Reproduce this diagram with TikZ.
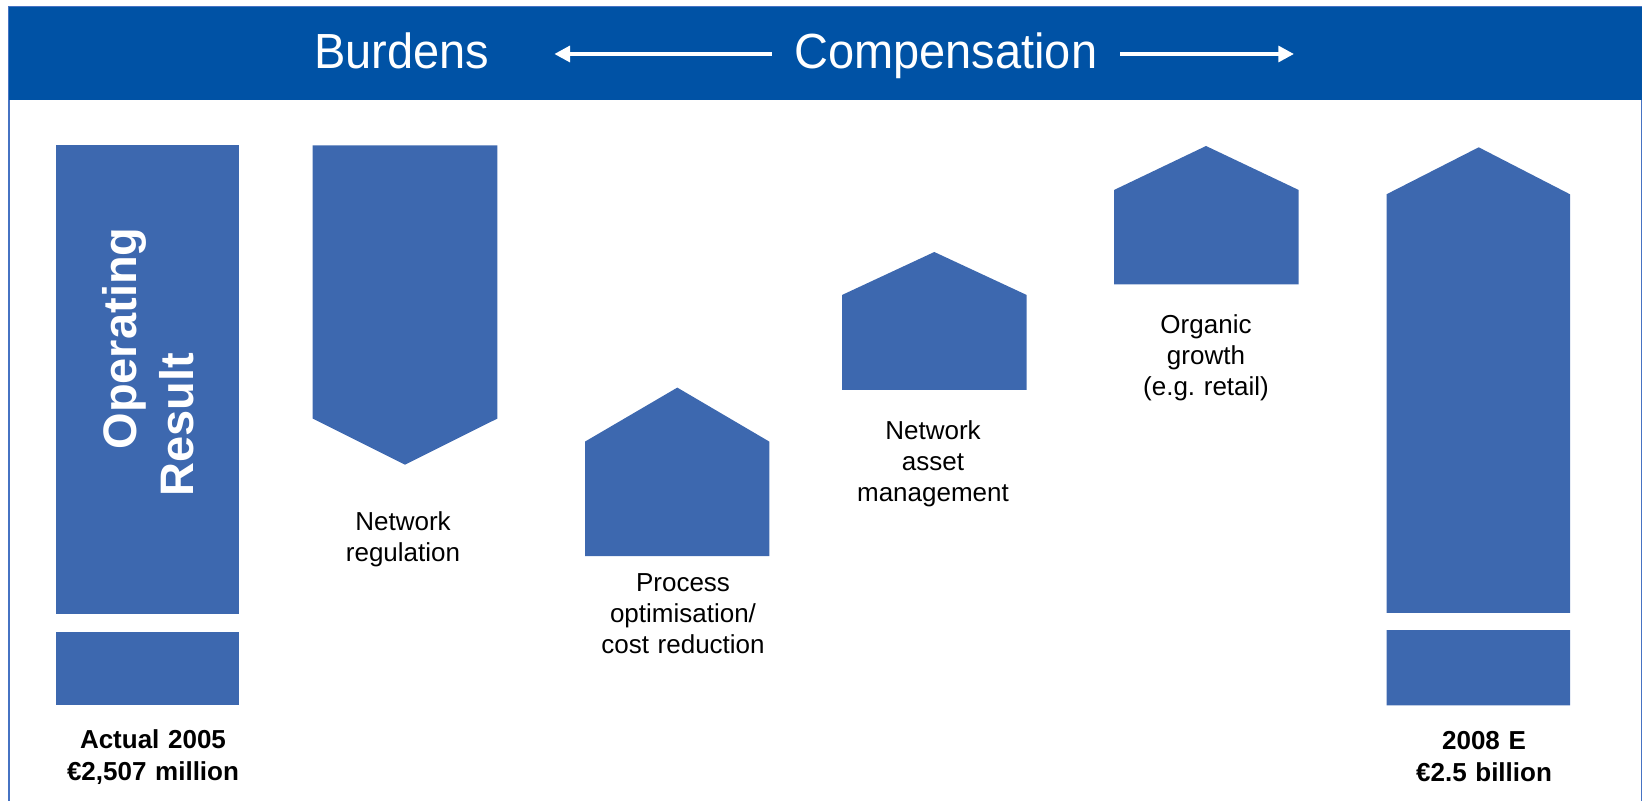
\documentclass[tikz,border=0pt]{standalone}
\usepackage{fontspec}
\setmainfont{Liberation Sans}
\usetikzlibrary{arrows.meta}
\frenchspacing
\definecolor{bannerblue}{RGB}{0,82,165}
\definecolor{barblue}{RGB}{61,104,175}
\definecolor{frameblue}{RGB}{70,115,195}
\tikzset{
  bar/.style={fill=barblue},
  gap/.style={fill=white},
  titletext/.style={text=white, inner sep=0pt, anchor=base, font=\fontsize{23.5}{28}\selectfont},
  label/.style={inner sep=0pt, anchor=base, align=center, text width=100pt, font=\fontsize{13}{15.6}\selectfont},
  boldlabel/.style={inner sep=0pt, anchor=base, align=center, text width=100pt, font=\bfseries\fontsize{13}{16.1}\selectfont},
  rotlabel/.style={inner sep=0pt, anchor=base, rotate=90, text=white, font=\bfseries\fontsize{23.5}{28}\selectfont},
  headarrow/.style={draw=white, line width=2pt, -{Triangle[length=7.85pt, width=7.85pt]}},
}
\begin{document}
\begin{tikzpicture}[x=0.5pt, y=-0.5pt]
\useasboundingbox (0,0) rectangle (1642,801);
% frame and banner
\draw[frameblue, line width=1pt] (9.3,801) -- (9.3,7) -- (1641.7,7) -- (1641.7,801);
\fill[bannerblue] (9.3,7.5) rectangle (1641.7,100);
\node[titletext] (burdens) at (401.9,68.3) {\scalebox{1}[1.05]{Burdens}};
\node[titletext] (comp) at (945.7,68.3) {\scalebox{1}[1.05]{Compensation}};
\coordinate (la1) at (771.7,54);
\coordinate (la2) at (554.3,54);
\coordinate (ra1) at (1120,54);
\coordinate (ra2) at (1294,54);
\draw[headarrow] (la1) -- (la2);
\draw[headarrow] (ra1) -- (ra2);
% operating result 2005
\fill[bar] (56,145.3) rectangle (239,705);
\fill[gap] (56,614) rectangle (239,632);
\node[rotlabel] (oper) at (136,338.5) {Operating};
\node[rotlabel] (res) at (193,425) {Result};
% network regulation (down)
\fill[bar] (312.7,145.3) -- (497.3,145.3) -- (497.3,418.6) -- (405,464.7) -- (312.7,418.6) -- cycle;
% process optimisation
\fill[bar] (585,556) -- (585,441.6) -- (677.3,387.6) -- (769.3,441.6) -- (769.3,556) -- cycle;
% network asset management
\fill[bar] (842,390) -- (842,295) -- (934.3,252) -- (1026.7,295) -- (1026.7,390) -- cycle;
% organic growth
\fill[bar] (1114,284.3) -- (1114,190) -- (1206,146) -- (1298.7,190) -- (1298.7,284.3) -- cycle;
% 2008 E
\fill[bar] (1386.5,705.3) -- (1386.5,194.3) -- (1478.7,147.3) -- (1570,194.3) -- (1570,705.3) -- cycle;
\fill[gap] (1386,612.7) rectangle (1570.5,630);
% labels
\node[label] (lnetreg) at (403,530.5) {Network\\regulation};
\node[label] (lproc) at (683,591.4) {Process\\optimisation/\\cost reduction};
\node[label] (lasset) at (933,439.3) {Network\\asset\\management};
\node[label] (lorg) at (1206,333.3) {Organic\\growth\\(e.g. retail)};
\node[boldlabel] (lact) at (153,748.3) {Actual 2005\\€2,507 million};
\node[boldlabel] (lest) at (1484,749) {2008 E\\€2.5 billion};
\end{tikzpicture}
\end{document}
